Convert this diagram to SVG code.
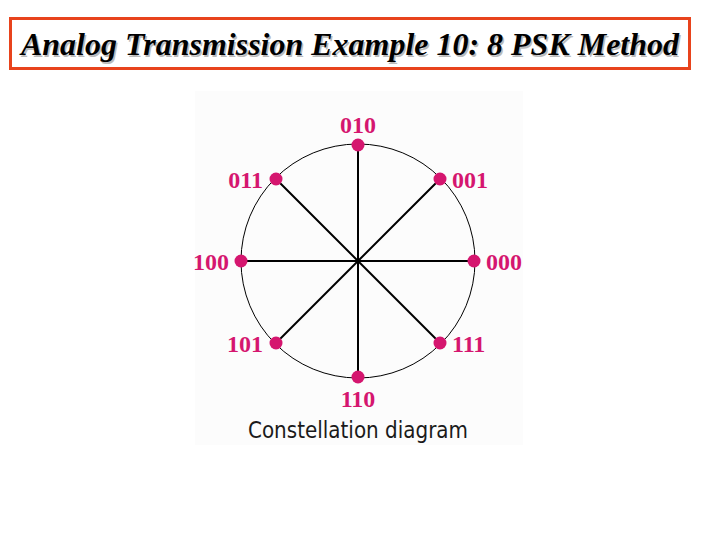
<svg xmlns="http://www.w3.org/2000/svg" width="720" height="540" viewBox="0 0 720 540">
<style>
.lbl{font-family:"Liberation Serif","Times New Roman",serif;font-weight:bold;font-size:24px;fill:#d5166f}
.spoke{stroke:#000;stroke-width:2;stroke-linecap:round}
.dot{fill:#d5166f}
.ttl{font-family:"Liberation Serif","Times New Roman",serif;font-weight:bold;font-style:italic;font-size:31px}
</style>
<rect width="720" height="540" fill="#fff"/>
<g id="title">
<rect x="10.5" y="18.5" width="679" height="50" fill="#fff" stroke="#e8431c" stroke-width="3"/>
<text class="ttl" x="21" y="55" fill="#bbb" textLength="658" lengthAdjust="spacingAndGlyphs" transform="translate(1.5,1.5)">Analog Transmission Example 10: 8 PSK Method</text>
<text class="ttl" x="21" y="55" fill="#000" textLength="658" lengthAdjust="spacingAndGlyphs">Analog Transmission Example 10: 8 PSK Method</text>
</g>
<rect x="195" y="91" width="328" height="354" fill="#fcfcfc"/>
<g id="circle">
<circle cx="358" cy="261" r="117" fill="none" stroke="#000" stroke-width="1"/>
</g>
<g id="connectors">
<line class="spoke" x1="358" y1="261" x2="358" y2="145"/>
<line class="spoke" x1="358" y1="261" x2="358" y2="377"/>
<line class="spoke" x1="241" y1="261" x2="474" y2="261" stroke-width="3"/>
<line class="spoke" x1="358" y1="261" x2="276" y2="179"/>
<line class="spoke" x1="358" y1="261" x2="440" y2="179"/>
<line class="spoke" x1="358" y1="261" x2="276" y2="343"/>
<line class="spoke" x1="358" y1="261" x2="440" y2="343"/>
</g>
<g id="p010"><circle class="dot" cx="358" cy="145" r="6.5"/><text class="lbl" x="358" y="133" text-anchor="middle">010</text></g>
<g id="p011"><circle class="dot" cx="276" cy="179" r="6.5"/><text class="lbl" x="263" y="188" text-anchor="end">011</text></g>
<g id="p001"><circle class="dot" cx="440" cy="179" r="6.5"/><text class="lbl" x="452" y="188">001</text></g>
<g id="p100"><circle class="dot" cx="241" cy="261" r="6.5"/><text class="lbl" x="229" y="270" text-anchor="end">100</text></g>
<g id="p000"><circle class="dot" cx="474" cy="261" r="6.5"/><text class="lbl" x="486" y="270">000</text></g>
<g id="p101"><circle class="dot" cx="276" cy="343" r="6.5"/><text class="lbl" x="263" y="352" text-anchor="end">101</text></g>
<g id="p111"><circle class="dot" cx="440" cy="343" r="6.5"/><text class="lbl" x="452" y="352">111</text></g>
<g id="p110"><circle class="dot" cx="358" cy="377" r="6.5"/><text class="lbl" x="358" y="407" text-anchor="middle">110</text></g>
<g id="caption">
<text x="358" y="438" text-anchor="middle" font-family="'DejaVu Sans','Liberation Sans',sans-serif" font-size="23" fill="#1a1a1a" textLength="220" lengthAdjust="spacingAndGlyphs">Constellation diagram</text>
</g>
</svg>
